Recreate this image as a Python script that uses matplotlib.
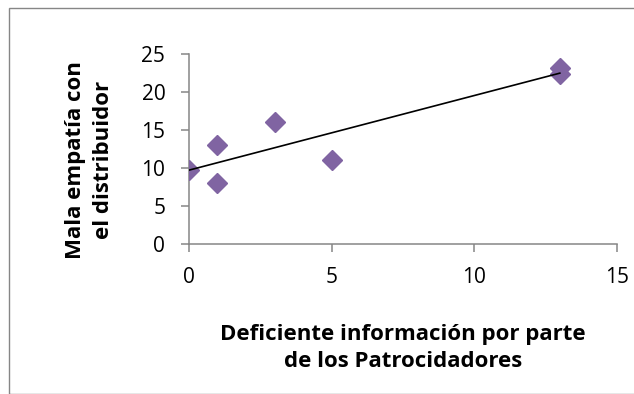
import numpy as np
import matplotlib.pyplot as plt
from matplotlib.patches import Rectangle

# survey results: information deficit vs. poor empathy with the distributor
info_deficit = [0, 1, 1, 3, 5, 13, 13]
mala_empatia = [9.7, 13, 8, 16, 11, 23.2, 22.4]

x_ticks = [0, 5, 10, 15]
y_ticks = [0, 5, 10, 15, 20, 25]

plt.rcParams['font.family'] = ['Open Sans', 'DejaVu Sans']

fig = plt.figure(figsize=(6.34, 3.94), dpi=100)
ax = fig.add_axes([0.298, 0.381, 0.675, 0.482])

# scatter points as purple diamonds
ax.plot(info_deficit, mala_empatia, linestyle='none', marker='D',
        markersize=9.8, color='#8064A2', zorder=3)

# linear trendline over the range of the data
slope, intercept = np.polyfit(info_deficit, mala_empatia, 1)
xs = np.array([min(info_deficit), max(info_deficit)])
ax.plot(xs, slope * xs + intercept, color='black', linewidth=1.2, zorder=4)

ax.set_xlim(0, 15)
ax.set_ylim(0, 25)
ax.set_xticks(x_ticks)
ax.set_yticks(y_ticks)

for side in ['top', 'right']:
    ax.spines[side].set_visible(False)
for side in ['left', 'bottom']:
    ax.spines[side].set_color('#868686')
    ax.spines[side].set_linewidth(1.1)

ax.tick_params(axis='x', direction='out', length=6, width=1.1, color='#868686',
               labelsize=15, pad=11)
ax.tick_params(axis='y', direction='out', length=6, width=1.1, color='#868686',
               labelsize=15, pad=11)

ax.set_xlabel('Deficiente información por parte\nde los Patrocidadores',
              fontsize=16, fontweight='bold', linespacing=1.4)
ax.set_ylabel('Mala empatía con\nel distribuidor',
              fontsize=16, fontweight='bold', linespacing=1.4)
ax.xaxis.set_label_coords(0.5, -0.42)
ax.yaxis.set_label_coords(-0.176, 0.44)

# thin grey frame around the chart area
fig.patches.append(Rectangle((9 / 634, 0), 1, 1 - 8 / 394, transform=fig.transFigure,
                             fill=False, edgecolor='#868686', linewidth=1.0))

fig.savefig('out.png', dpi=100)
